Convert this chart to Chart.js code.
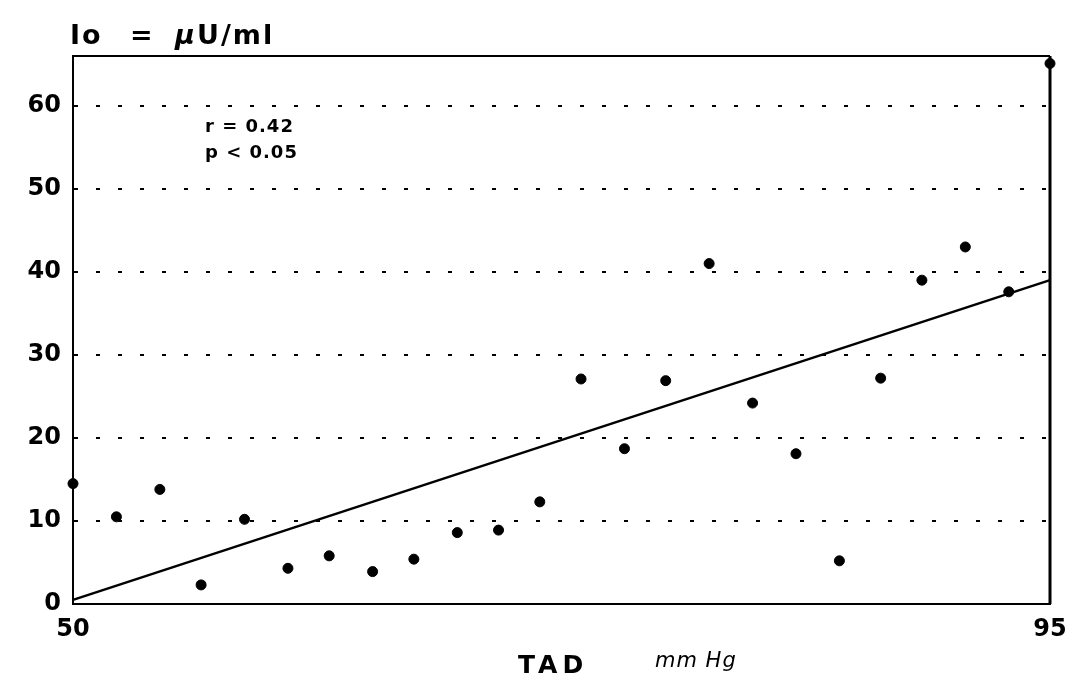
<!DOCTYPE html>
<html>
<head>
<meta charset="utf-8">
<script src="https://cdn.jsdelivr.net/npm/chart.js@4/dist/chart.umd.min.js"></script>
<style>
html, body { margin: 0; padding: 0; background: #fff; }
#wrap { width: 1079px; height: 681px; }
</style>
</head>
<body>
<div id="wrap"><canvas id="scatterChart"></canvas></div>
<script>
const tadValues = [50, 52.0, 54.0, 55.9, 57.9, 59.9, 61.8, 63.8, 65.7, 67.7, 69.6, 71.5,
                   73.4, 75.4, 77.3, 79.3, 81.3, 83.3, 85.3, 87.2, 89.1, 91.1, 93.1, 95];
const insulinValues = [14.5, 10.5, 13.8, 2.3, 10.2, 4.3, 5.8, 3.9, 5.4, 8.6, 8.9, 12.3,
                       27.1, 18.7, 26.9, 41.0, 24.2, 18.1, 5.2, 27.2, 39.0, 43.0, 37.6, 65.1];
const fitX = [50, 95];
const fitY = [0.5, 39.0];
const xTicks = [50, 95];
const yTicks = [0, 10, 20, 30, 40, 50, 60];

const points = tadValues.map((x, i) => ({ x: x, y: insulinValues[i] }));
const fitLine = fitX.map((x, i) => ({ x: x, y: fitY[i] }));

// frame + texts that are not part of the axes
const extras = {
    id: 'extras',
    afterDraw(chart) {
        const c = chart.ctx;
        const a = chart.chartArea;
        c.save();
        c.strokeStyle = '#000';
        c.lineWidth = 2;
        c.beginPath();
        c.moveTo(a.left, a.top);
        c.lineTo(a.right, a.top);
        c.stroke();
        c.lineWidth = 3;
        c.beginPath();
        c.moveTo(a.right, a.top);
        c.lineTo(a.right, a.bottom);
        c.stroke();

        c.fillStyle = '#000';
        c.textBaseline = 'middle';
        c.textAlign = 'left';
        c.letterSpacing = '2px';
        c.font = 'bold 27px "DejaVu Sans"';
        c.fillText('Io', 70, 37);
        c.fillText('=', 130, 37);
        c.font = 'italic bold 27px "DejaVu Sans"';
        c.fillText('\u03bc', 175, 37);
        c.font = 'bold 27px "DejaVu Sans"';
        c.fillText('U/ml', 197, 37);

        c.letterSpacing = '1px';
        c.font = 'bold 18px "DejaVu Sans"';
        c.fillText('r = 0.42', 205, 127);
        c.fillText('p < 0.05', 205, 153);

        c.letterSpacing = '5px';
        c.font = 'bold 25px "DejaVu Sans"';
        c.fillText('TAD', 518, 666);
        c.letterSpacing = '1px';
        c.font = 'italic 21px "DejaVu Sans"';
        c.fillText('mm Hg', 655, 662);
        c.restore();
    }
};

const ctx = document.getElementById('scatterChart').getContext('2d');
new Chart(ctx, {
    type: 'scatter',
    data: {
        datasets: [{
            label: 'Io',
            data: points,
            backgroundColor: '#000',
            borderColor: '#000',
            pointStyle: 'circle',
            pointRadius: 5,
            clip: false
        }, {
            type: 'line',
            label: 'fit',
            data: fitLine,
            borderColor: '#000',
            borderWidth: 2.5,
            pointRadius: 0,
            fill: false,
            clip: false
        }]
    },
    options: {
        responsive: true,
        maintainAspectRatio: false,
        animation: false,
        devicePixelRatio: 1,
        layout: { padding: { top: 56, right: 29, left: 0, bottom: 0 } },
        plugins: {
            legend: { display: false },
            tooltip: { enabled: false }
        },
        scales: {
            x: {
                type: 'linear',
                min: 50,
                max: 95,
                afterBuildTicks: s => { s.ticks = xTicks.map(v => ({ value: v })); },
                afterFit: s => { s.height = 77; },
                grid: { display: false, drawTicks: false },
                border: { display: true, color: '#000', width: 2 },
                ticks: {
                    color: '#000',
                    padding: 11,
                    maxRotation: 0,
                    font: { family: 'DejaVu Sans', weight: 'bold', size: 24 }
                }
            },
            y: {
                min: 0,
                max: 66,
                afterBuildTicks: s => { s.ticks = yTicks.map(v => ({ value: v })); },
                afterFit: s => { s.width = 73; },
                grid: { color: '#000', lineWidth: 2, drawTicks: false },
                border: { display: true, color: '#000', width: 2, dash: [4, 18] },
                ticks: {
                    color: '#000',
                    padding: 12,
                    font: { family: 'DejaVu Sans', weight: 'bold', size: 24 }
                }
            }
        }
    },
    plugins: [extras]
});
</script>
</body>
</html>
